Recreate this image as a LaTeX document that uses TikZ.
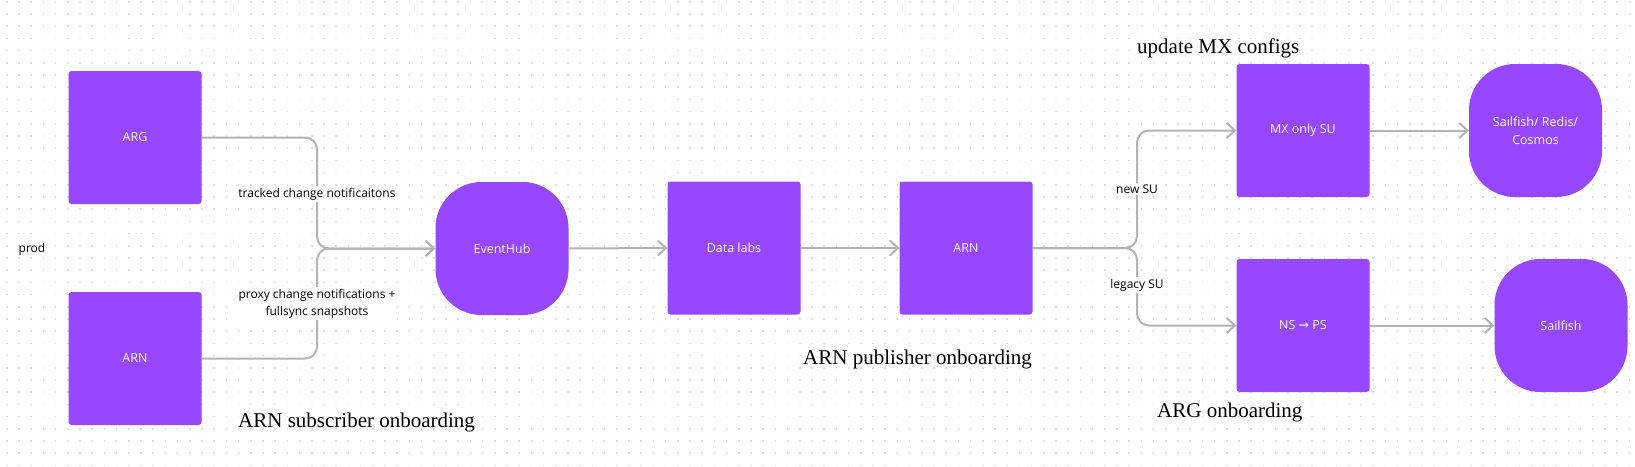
\documentclass[tikz,border=0pt]{standalone}
\usepackage{fontspec}
\setmainfont{Liberation Serif}
\newfontfamily\uifont{Open Sans}
\newfontfamily\symfont{DejaVu Sans}
\usetikzlibrary{arrows.meta}

\definecolor{boxpurple}{HTML}{9747FF}
\definecolor{linegray}{HTML}{B3B3B3}
\definecolor{dotgray}{HTML}{DEDEDE}

\begin{document}
\begin{tikzpicture}[x=1pt, y=-1pt,
    box/.style={fill=boxpurple, rounded corners=3pt, minimum width=133pt, minimum height=133pt,
        inner sep=0pt, text=white, font=\uifont\fontsize{12.5}{18}\selectfont, align=center},
    blob/.style={box, rounded corners=46pt},
    conn/.style={draw=linegray, line width=2pt, rounded corners=12pt,
        -{Straight Barb[length=8pt, width=15pt, line width=2pt]}},
    lbl/.style={fill=white, inner sep=2pt, font=\uifont\fontsize{12}{17}\selectfont, align=center},
    title/.style={anchor=west, inner sep=0pt, font=\fontsize{21}{25}\selectfont}]
    \useasboundingbox (0,0) rectangle (1635,466);
    \fill[white] (0,0) rectangle (1635,466);
    \foreach \i in {0,...,133}
        \foreach \j in {0,...,38}
            \fill[dotgray] (6.7+12.2*\i-0.8, 1.7+12.2*\j-0.8) rectangle ++(1.6,1.6);

    \node[lbl, fill=none] (prod) at (32,249) {prod};

    \node[box] (argL) at (135,137.5) {ARG};
    \node[box] (arnL) at (135,358.5) {ARN};
    \node[blob] (eventhub) at (502,248.5) {EventHub};
    \node[box] (datalabs) at (734,248) {Data labs};
    \node[box] (arnM) at (966,248) {ARN};
    \node[box] (mxsu) at (1303,130.5) {MX only SU};
    \node[box] (nsps) at (1303,325.5) {NS {\symfont→} PS};
    \node[blob] (cosmos) at (1535.5,130.5) {Sailfish/ Redis/\\Cosmos};
    \node[blob] (sailfish) at (1561,325.5) {Sailfish};

    \coordinate (jL) at (317,248.5);
    \coordinate (jR) at (1137,248);

    \draw[conn] (argL.east) -| (jL) -- (eventhub.west);
    \draw[conn] (arnL.east) -| (jL) -- (eventhub.west);
    \draw[conn] (eventhub.east) -- (datalabs.west);
    \draw[conn] (datalabs.east) -- (arnM.west);
    \draw[conn] (arnM.east) -- (jR) |- (mxsu.west);
    \draw[conn] (arnM.east) -- (jR) |- (nsps.west);
    \draw[conn] (mxsu.east) -- (cosmos.west);
    \draw[conn] (nsps.east) -- (sailfish.west);

    \node[lbl] (tracked) at (317,194) {tracked change notificaitons};
    \node[lbl] (proxy) at (317,303.5) {proxy change notifications +\\fullsync snapshots};
    \node[lbl] (newsu) at (1137,189) {new SU};
    \node[lbl] (legacysu) at (1137,285) {legacy SU};

    \node[title] (subtitle) at (238,422) {ARN subscriber onboarding};
    \node[title] (pubtitle) at (803,359) {ARN publisher onboarding};
    \node[title] (mxtitle) at (1137,48) {update MX configs};
    \node[title] (argtitle) at (1157,412) {ARG onboarding};
\end{tikzpicture}
\end{document}
